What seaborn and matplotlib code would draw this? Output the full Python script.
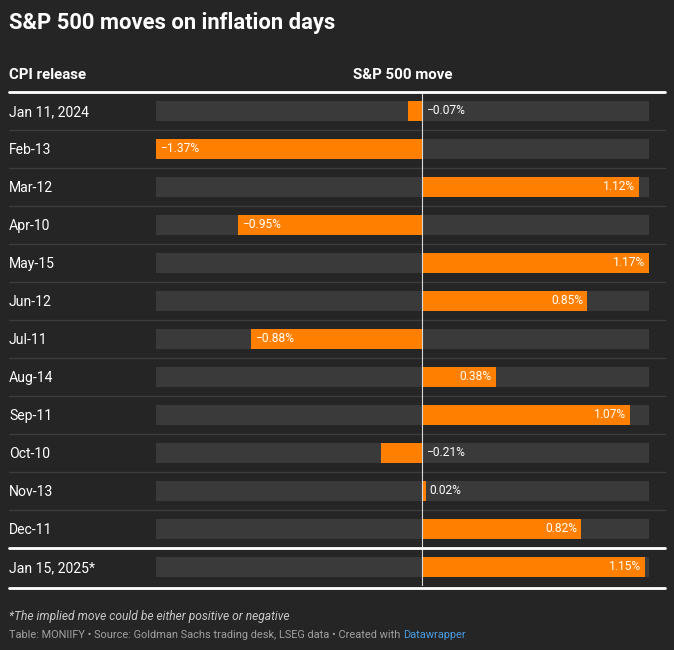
import matplotlib
matplotlib.use("Agg")
import matplotlib.pyplot as plt
import matplotlib.transforms as mtransforms
import seaborn as sns
import pandas as pd

dates = ["Jan 11, 2024", "Feb-13", "Mar-12", "Apr-10", "May-15", "Jun-12", "Jul-11",
         "Aug-14", "Sep-11", "Oct-10", "Nov-13", "Dec-11", "Jan 15, 2025*"]
moves = [-0.07, -1.37, 1.12, -0.95, 1.17, 0.85, -0.88, 0.38, 1.07, -0.21, 0.02, 0.82, 1.15]

title = "S&P 500 moves on inflation days"
col1_header = "CPI release"
col2_header = "S&P 500 move"
footnote = "*The implied move could be either positive or negative"
source = "Table: MONIIFY \u2022 Source: Goldman Sachs trading desk, LSEG data \u2022 Created with "
source_link = "Datawrapper"

BG = "#252525"
GRAY_BAR = "#3a3a3a"
ORANGE = "#ff8000"
SEP = "#3c3c3c"
WHITE = "#ffffff"

sns.set_theme(style="white")
plt.rcParams["font.family"] = ["Roboto", "DejaVu Sans"]

W, H = 674, 650
fig = plt.figure(figsize=(W / 100, H / 100), dpi=100, facecolor=BG)

def fx(px):
    return px / W

def fy(py):
    return 1 - py / H

n = len(dates)
row_h = 38
top_px = 92
ax_left, ax_right = 156, 649
ax_top, ax_bottom = top_px, top_px + row_h * n
ax = fig.add_axes([fx(ax_left), fy(ax_bottom), fx(ax_right - ax_left), (ax_bottom - ax_top) / H])
ax.set_facecolor(BG)

xmin, xmax = min(moves), max(moves)
df = pd.DataFrame({"date": dates, "move": moves})

bar_h = 20 / row_h
ax.barh(range(n), width=xmax - xmin, left=xmin, height=bar_h, color=GRAY_BAR, zorder=0, linewidth=0)
sns.barplot(data=df, x="move", y="date", orient="h", color=ORANGE, width=bar_h,
            ax=ax, saturation=1, linewidth=0, zorder=2)
ax.set_xlim(xmin, xmax)
ax.set_ylim(n - 0.5, -0.5)
for s in ax.spines.values():
    s.set_visible(False)
ax.set_xticks([])
ax.set_yticks([])
ax.set_xlabel("")
ax.set_ylabel("")
ax.axvline(0, color="#d8d8d8", lw=0.8, zorder=3)

blend = mtransforms.blended_transform_factory(fig.transFigure, ax.transData)
for i in range(1, n):
    if i == n - 1:
        ax.plot([fx(9), fx(665)], [i - 0.5, i - 0.5], transform=blend, color=WHITE, lw=2, clip_on=False, zorder=4)
    else:
        ax.plot([fx(9), fx(665)], [i - 0.5, i - 0.5], transform=blend, color=SEP, lw=1, clip_on=False, zorder=1)
ax.plot([fx(9), fx(665)], [-0.5, -0.5], transform=blend, color=WHITE, lw=2, clip_on=False, zorder=4)
ax.plot([fx(9), fx(665)], [n - 0.5 + 0.05, n - 0.5 + 0.05], transform=blend, color=WHITE, lw=2, clip_on=False, zorder=4)

label_fs = 14 * 0.72
val_fs = 12 * 0.72
off = mtransforms.offset_copy
for i, (d, v) in enumerate(zip(dates, moves)):
    tl = off(blend, fig=fig, x=0, y=-1, units="dots")
    ax.text(fx(9), i, d, transform=tl, ha="left", va="center", color=WHITE, fontsize=label_fs)
    txt = f"{v:.2f}%".replace("-", "\u2212")
    if v < 0:
        if abs(v) >= 0.3:
            t = off(ax.transData, fig=fig, x=4, y=0, units="dots")
            ax.text(v, i, txt, transform=t, ha="left", va="center", color=WHITE, fontsize=val_fs, zorder=5)
        else:
            t = off(ax.transData, fig=fig, x=4, y=0, units="dots")
            ax.text(0, i, txt, transform=t, ha="left", va="center", color=WHITE, fontsize=val_fs, zorder=5)
    else:
        if abs(v) >= 0.3:
            t = off(ax.transData, fig=fig, x=-4, y=0, units="dots")
            ax.text(v, i, txt, transform=t, ha="right", va="center", color=WHITE, fontsize=val_fs, zorder=5)
        else:
            t = off(ax.transData, fig=fig, x=4, y=0, units="dots")
            ax.text(v, i, txt, transform=t, ha="left", va="center", color=WHITE, fontsize=val_fs, zorder=5)

fig.text(fx(9), fy(29), title, ha="left", va="baseline", color=WHITE, fontsize=22 * 0.72, fontweight="bold")
fig.text(fx(9), fy(79), col1_header, ha="left", va="baseline", color=WHITE, fontsize=15 * 0.72, fontweight="bold")
fig.text(fx((ax_left + ax_right) / 2), fy(79), col2_header, ha="center", va="baseline", color=WHITE,
         fontsize=15 * 0.72, fontweight="bold")
fig.text(fx(9), fy(620), footnote, ha="left", va="baseline", color="#c8c8c8", fontsize=12 * 0.72, style="italic")
src = fig.text(fx(9), fy(638), source, ha="left", va="baseline", color="#a0a0a0", fontsize=11 * 0.72)
fig.canvas.draw()
bb = src.get_window_extent(renderer=fig.canvas.get_renderer())
fig.text(bb.x1 / W, fy(638), source_link, ha="left", va="baseline", color="#4a9be0", fontsize=11 * 0.72)

fig.savefig("out.png", dpi=100, facecolor=BG)
